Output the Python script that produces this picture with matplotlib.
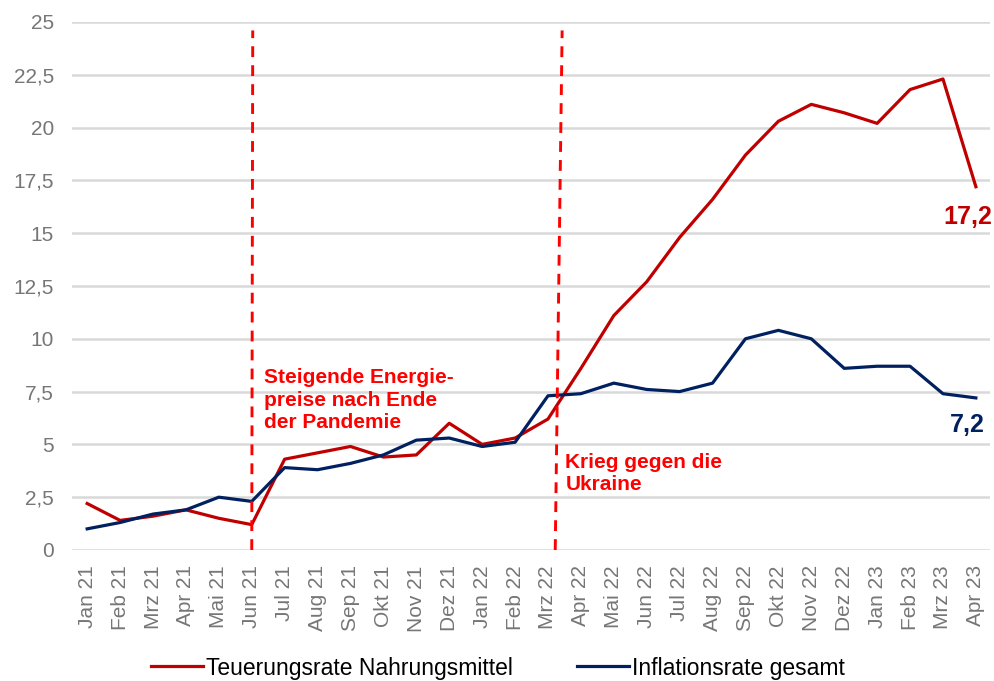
import matplotlib.pyplot as plt
import numpy as np

months = ["Jan 21", "Feb 21", "Mrz 21", "Apr 21", "Mai 21", "Jun 21", "Jul 21", "Aug 21",
          "Sep 21", "Okt 21", "Nov 21", "Dez 21", "Jan 22", "Feb 22", "Mrz 22", "Apr 22",
          "Mai 22", "Jun 22", "Jul 22", "Aug 22", "Sep 22", "Okt 22", "Nov 22", "Dez 22",
          "Jan 23", "Feb 23", "Mrz 23", "Apr 23"]
food = [2.2, 1.4, 1.6, 1.9, 1.5, 1.2, 4.3, 4.6, 4.9, 4.4, 4.5, 6.0, 5.0, 5.3, 6.2, 8.6,
        11.1, 12.7, 14.8, 16.6, 18.7, 20.3, 21.1, 20.7, 20.2, 21.8, 22.3, 17.2]
total = [1.0, 1.3, 1.7, 1.9, 2.5, 2.3, 3.9, 3.8, 4.1, 4.5, 5.2, 5.3, 4.9, 5.1, 7.3, 7.4,
         7.9, 7.6, 7.5, 7.9, 10.0, 10.4, 10.0, 8.6, 8.7, 8.7, 7.4, 7.2]
yticks = [0, 2.5, 5, 7.5, 10, 12.5, 15, 17.5, 20, 22.5, 25]
events = ["Jun 21", "Mrz 22"]
event_texts = ["Steigende Energie-\npreise nach Ende\nder Pandemie", "Krieg gegen die\nUkraine"]

plt.rcParams['font.family'] = ['Liberation Sans', 'DejaVu Sans']

def de(v):
    return f"{v:g}".replace('.', ',')

fig = plt.figure(figsize=(9.95, 6.81), dpi=100)
ax = fig.add_axes([0.0724, 0.1924, 0.9226, 0.7753])

x = np.arange(len(months))
ax.plot(x, food, color='#C00000', lw=2.3, label='Teuerungsrate Nahrungsmittel', zorder=3)
ax.plot(x, total, color='#002060', lw=2.3, label='Inflationsrate gesamt', zorder=3)

# event markers (dashed red lines)
i1 = months.index(events[0])
i2 = months.index(events[1])
dash = (0, (3.7, 2.8))
ax.plot([i1, i1 + 0.03], [0, 24.6], color='#FF0000', lw=2.1, ls=dash, zorder=4)
ax.plot([i2 + 0.22, i2 + 0.43], [0, 24.6], color='#FF0000', lw=2.1, ls=dash, zorder=4)
ax.text(i1 + 0.38, 8.6, event_texts[0], color='#FF0000', fontsize=15,
        fontweight='bold', va='top', ha='left', linespacing=1.22)
ax.text(i2 + 0.53, 4.6, event_texts[1], color='#FF0000', fontsize=15,
        fontweight='bold', va='top', ha='left', linespacing=1.22)

# end labels
ax.annotate(de(food[-1]), xy=(0.997, 15.77), xycoords=('figure fraction', 'data'),
            color='#C00000', fontsize=18, fontweight='bold', ha='right', va='center')
ax.annotate(de(total[-1]), xy=(0.99, 5.92), xycoords=('figure fraction', 'data'),
            color='#002060', fontsize=18, fontweight='bold', ha='right', va='center')

ax.set_xlim(-0.46, 27.43)
ax.set_ylim(0, 25)
ax.set_yticks(yticks)
ax.set_yticklabels([de(v) for v in yticks])
ax.set_xticks(x)
ax.set_xticklabels(months, rotation=90)
ax.tick_params(axis='both', length=0, colors='#767676', labelsize=15)
ax.tick_params(axis='x', pad=11)
ax.tick_params(axis='y', pad=13)
ax.grid(axis='y', color='#D9D9D9', lw=1.8)
ax.set_axisbelow(True)
for s in ax.spines.values():
    s.set_visible(False)

fig.legend(loc='center', bbox_to_anchor=(0.5, 1 - 668 / 681), ncol=2, frameon=False,
           handlelength=2.3, columnspacing=2.8, handletextpad=0.1,
           prop={'family': ['Liberation Sans Narrow', 'Liberation Sans'], 'size': 16.5})

fig.savefig('out.png', dpi=100)
